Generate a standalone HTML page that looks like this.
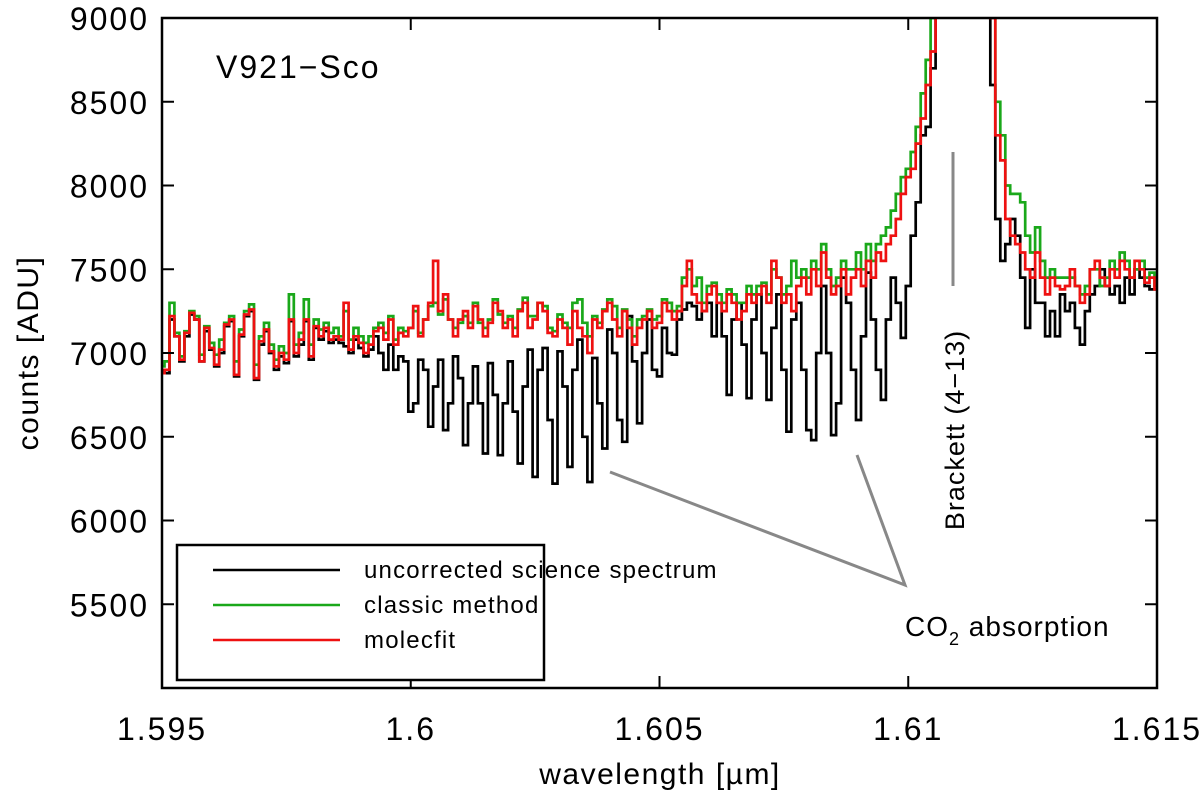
<!DOCTYPE html>
<html><head><meta charset="utf-8"><style>
body{margin:0;background:#fff;}
svg text{font-family:"Liberation Sans",Arial,sans-serif;fill:#000;}
</style></head><body>
<svg id="chart" width="1200" height="804" viewBox="0 0 1200 804" xmlns="http://www.w3.org/2000/svg">
<defs><clipPath id="clip"><rect x="162" y="18" width="995" height="670"/></clipPath></defs>
<g id="series" clip-path="url(#clip)"></g>
<rect x="162" y="18" width="995" height="670" fill="none" stroke="#000" stroke-width="2.5"/>
<g id="axes"></g>
<text x="216" y="78" font-size="32" letter-spacing="2">V921−Sco</text>
<text x="660" y="784" font-size="30" letter-spacing="1.5" text-anchor="middle">wavelength [µm]</text>
<text transform="translate(38,353) rotate(-90)" font-size="30" letter-spacing="1.5" text-anchor="middle">counts [ADU]</text>
<line x1="953" y1="152" x2="953" y2="286" stroke="#888" stroke-width="3"/>
<text transform="translate(964,430) rotate(-90)" font-size="27" letter-spacing="1" text-anchor="middle">Brackett (4−13)</text>
<path d="M610,472 L905,585 L857,455" fill="none" stroke="#888" stroke-width="3"/>
<text x="905" y="636" font-size="28" letter-spacing="1">CO<tspan font-size="18" dy="9">2</tspan><tspan dy="-9"> absorption</tspan></text>
<g>
<rect x="177" y="545" width="367" height="135" fill="#fff" stroke="#000" stroke-width="2.5"/>
<line x1="213" y1="570" x2="340" y2="570" stroke="#000" stroke-width="2.5"/>
<text x="364" y="578" font-size="24" letter-spacing="1.2">uncorrected science spectrum</text>
<line x1="213" y1="605" x2="340" y2="605" stroke="#1aa81a" stroke-width="2.5"/>
<text x="364" y="613" font-size="24" letter-spacing="1.2">classic method</text>
<line x1="213" y1="640" x2="340" y2="640" stroke="#ee1111" stroke-width="2.5"/>
<text x="364" y="648" font-size="24" letter-spacing="1.2">molecfit</text>
</g>
</svg>
<script>
const xStart = 1.595, xStep = 0.0001;
const xTicks = [1.595, 1.6, 1.605, 1.61, 1.615];
const xTickLabels = ["1.595", "1.6", "1.605", "1.61", "1.615"];
const yTicks = [5500, 6000, 6500, 7000, 7500, 8000, 8500, 9000];
const blackVals = [6900,6880,7200,7100,6950,7100,7230,7200,6950,7130,
7020,6920,7000,7160,7190,6860,7100,7220,7250,6840,
7050,7130,7000,6900,6980,6940,7190,6980,7050,7190,
6960,7150,7080,7130,7060,7080,7060,7040,7000,7080,
7030,6980,7020,7100,7000,6900,7050,6900,6980,6950,
6650,6700,6960,6900,6560,6800,6960,6540,6700,6980,
6850,6450,6700,6920,6700,6400,6940,6750,6390,6700,
6950,6650,6340,6800,7020,6260,6900,7030,6600,6220,
7010,6800,6320,6900,7080,6500,6230,6970,6700,6430,
7140,7000,6600,6470,7220,6950,6580,7000,7200,6900,
6860,7150,7000,6990,7200,7260,7300,7280,7200,7250,
7300,7100,7300,7100,6750,7200,7300,7050,6730,7200,
7350,7000,6720,7150,7350,6900,6530,7200,7300,6900,
6540,6480,7000,7400,7000,6510,6700,7450,7300,6900,
6600,7100,7480,7200,6900,6720,7200,7450,7300,7090,
7400,7700,7900,8300,8350,8700,9300,9600,10000,10000,
10000,10000,10000,10000,10000,10000,9200,8600,7800,7550,
7650,7800,7700,7450,7150,7500,7300,7300,7100,7250,
7100,7350,7250,7300,7150,7050,7250,7350,7400,7500,
7400,7350,7400,7300,7450,7350,7500,7450,7400,7380,7380];
const redVals = [6880,6900,7220,7100,6960,7120,7240,7200,6950,7150,
7030,6930,7020,7170,7200,6870,7110,7230,7260,6850,
7070,7140,7010,6920,7000,6960,7200,7000,7080,7200,
6980,7160,7100,7150,7080,7100,7080,7300,7020,7100,
7060,7000,7050,7130,7150,7080,7200,7050,7120,7100,
7150,7280,7100,7200,7300,7550,7250,7350,7200,7100,
7200,7250,7150,7280,7200,7100,7180,7300,7250,7150,
7200,7100,7250,7300,7150,7200,7300,7250,7120,7100,
7200,7150,7050,7250,7150,7100,7000,7200,7150,7250,
7300,7200,7100,7250,7150,7050,7150,7200,7250,7150,
7180,7300,7250,7200,7250,7400,7550,7350,7300,7250,
7350,7400,7300,7250,7350,7300,7200,7250,7350,7300,
7350,7400,7300,7550,7450,7300,7350,7250,7400,7450,
7350,7500,7400,7600,7450,7350,7400,7500,7350,7450,
7500,7400,7550,7450,7600,7550,7650,7700,7800,7950,
8050,8100,8250,8400,8600,8800,9200,10000,10000,10000,
10000,10000,10000,10000,10000,10000,10000,9000,8300,8150,
7800,7700,7650,7600,7500,7450,7600,7450,7350,7450,
7400,7380,7400,7500,7400,7300,7350,7500,7550,7450,
7400,7500,7450,7550,7500,7450,7550,7500,7420,7450,7380];
const greenVals = [6920,6950,7300,7120,6980,7130,7250,7220,6990,7160,
7060,6990,7080,7180,7220,6950,7140,7250,7290,6930,
7100,7180,7050,6960,7040,7000,7350,7050,7120,7320,
7050,7200,7140,7180,7120,7150,7100,7250,7080,7150,
7100,7060,7100,7150,7180,7120,7220,7080,7150,7130,
7150,7250,7120,7200,7280,7300,7230,7320,7200,7150,
7180,7220,7180,7300,7180,7150,7200,7320,7230,7180,
7220,7150,7260,7330,7220,7220,7300,7280,7150,7130,
7230,7180,7150,7300,7320,7180,7100,7220,7180,7260,
7320,7280,7150,7260,7200,7100,7200,7220,7260,7200,
7220,7320,7300,7250,7280,7450,7500,7400,7450,7300,
7400,7420,7350,7300,7380,7350,7300,7300,7400,7350,
7400,7420,7350,7500,7450,7350,7400,7550,7450,7500,
7450,7550,7500,7650,7500,7400,7450,7550,7500,7500,
7600,7500,7650,7550,7650,7700,7750,7850,7950,8050,
8100,8200,8350,8550,8750,9000,9500,10000,10000,10000,
10000,10000,10000,10000,10000,10000,10000,9400,8500,8300,
8000,7950,7950,7900,7700,7600,7750,7550,7450,7500,
7450,7450,7450,7450,7400,7350,7400,7500,7500,7400,
7450,7550,7500,7600,7550,7450,7500,7550,7450,7480,7400];

const X0 = 162, X1 = 1157, Y0 = 688, Y1 = 18, YMIN = 5000, YMAX = 9000;
function xs(v){ return X0 + (v - 1.595) / 0.02 * (X1 - X0); }
function ys(v){ return Y0 - (v - YMIN) / (YMAX - YMIN) * (Y0 - Y1); }
const NS = "http://www.w3.org/2000/svg";
const series = document.getElementById("series");
function stepPath(vals){
  let d = "";
  for (let i = 0; i < vals.length; i++){
    const xa = xs(xStart + (i - 0.5) * xStep), xb = xs(xStart + (i + 0.5) * xStep), y = ys(vals[i]);
    d += (i === 0 ? "M" : "L") + xa.toFixed(1) + "," + y.toFixed(1) + "L" + xb.toFixed(1) + "," + y.toFixed(1);
  }
  return d;
}
const specs = [["black", blackVals, "#000", "uncorrected-spectrum-line"], ["green", greenVals, "#1aa81a", "classic-method-line"], ["red", redVals, "#ee1111", "molecfit-line"]];
for (const s of specs){
  const p = document.createElementNS(NS, "path");
  p.setAttribute("d", stepPath(s[1]));
  p.setAttribute("fill", "none");
  p.setAttribute("stroke", s[2]);
  p.setAttribute("stroke-width", "2.7");
  
  
  series.appendChild(p);
}
const axes = document.getElementById("axes");
function mk(tag, attrs){ const e = document.createElementNS(NS, tag); for (const k in attrs) e.setAttribute(k, attrs[k]); axes.appendChild(e); return e; }
xTicks.forEach((t, i) => {
  const x = xs(t);
  const l1 = mk("line", {x1:x, y1:Y0, x2:x, y2:Y0-12, stroke:"#000", "stroke-width":2});
  
  
  const l2 = mk("line", {x1:x, y1:Y1, x2:x, y2:Y1+12, stroke:"#000", "stroke-width":2});
  
  
  const tx = mk("text", {x:x, y:740, "font-size":32, "letter-spacing":2, "text-anchor":"middle"});
  tx.textContent = xTickLabels[i];
  
  
});
yTicks.forEach(t => {
  const y = ys(t);
  const l1 = mk("line", {x1:X0, y1:y, x2:X0+12, y2:y, stroke:"#000", "stroke-width":2});
  
  
  const l2 = mk("line", {x1:X1, y1:y, x2:X1-12, y2:y, stroke:"#000", "stroke-width":2});
  
  
  const tx = mk("text", {x:149, y:y+12, "font-size":32, "letter-spacing":2, "text-anchor":"end"});
  tx.textContent = String(t);
  
  
});
</script>
</body></html>
